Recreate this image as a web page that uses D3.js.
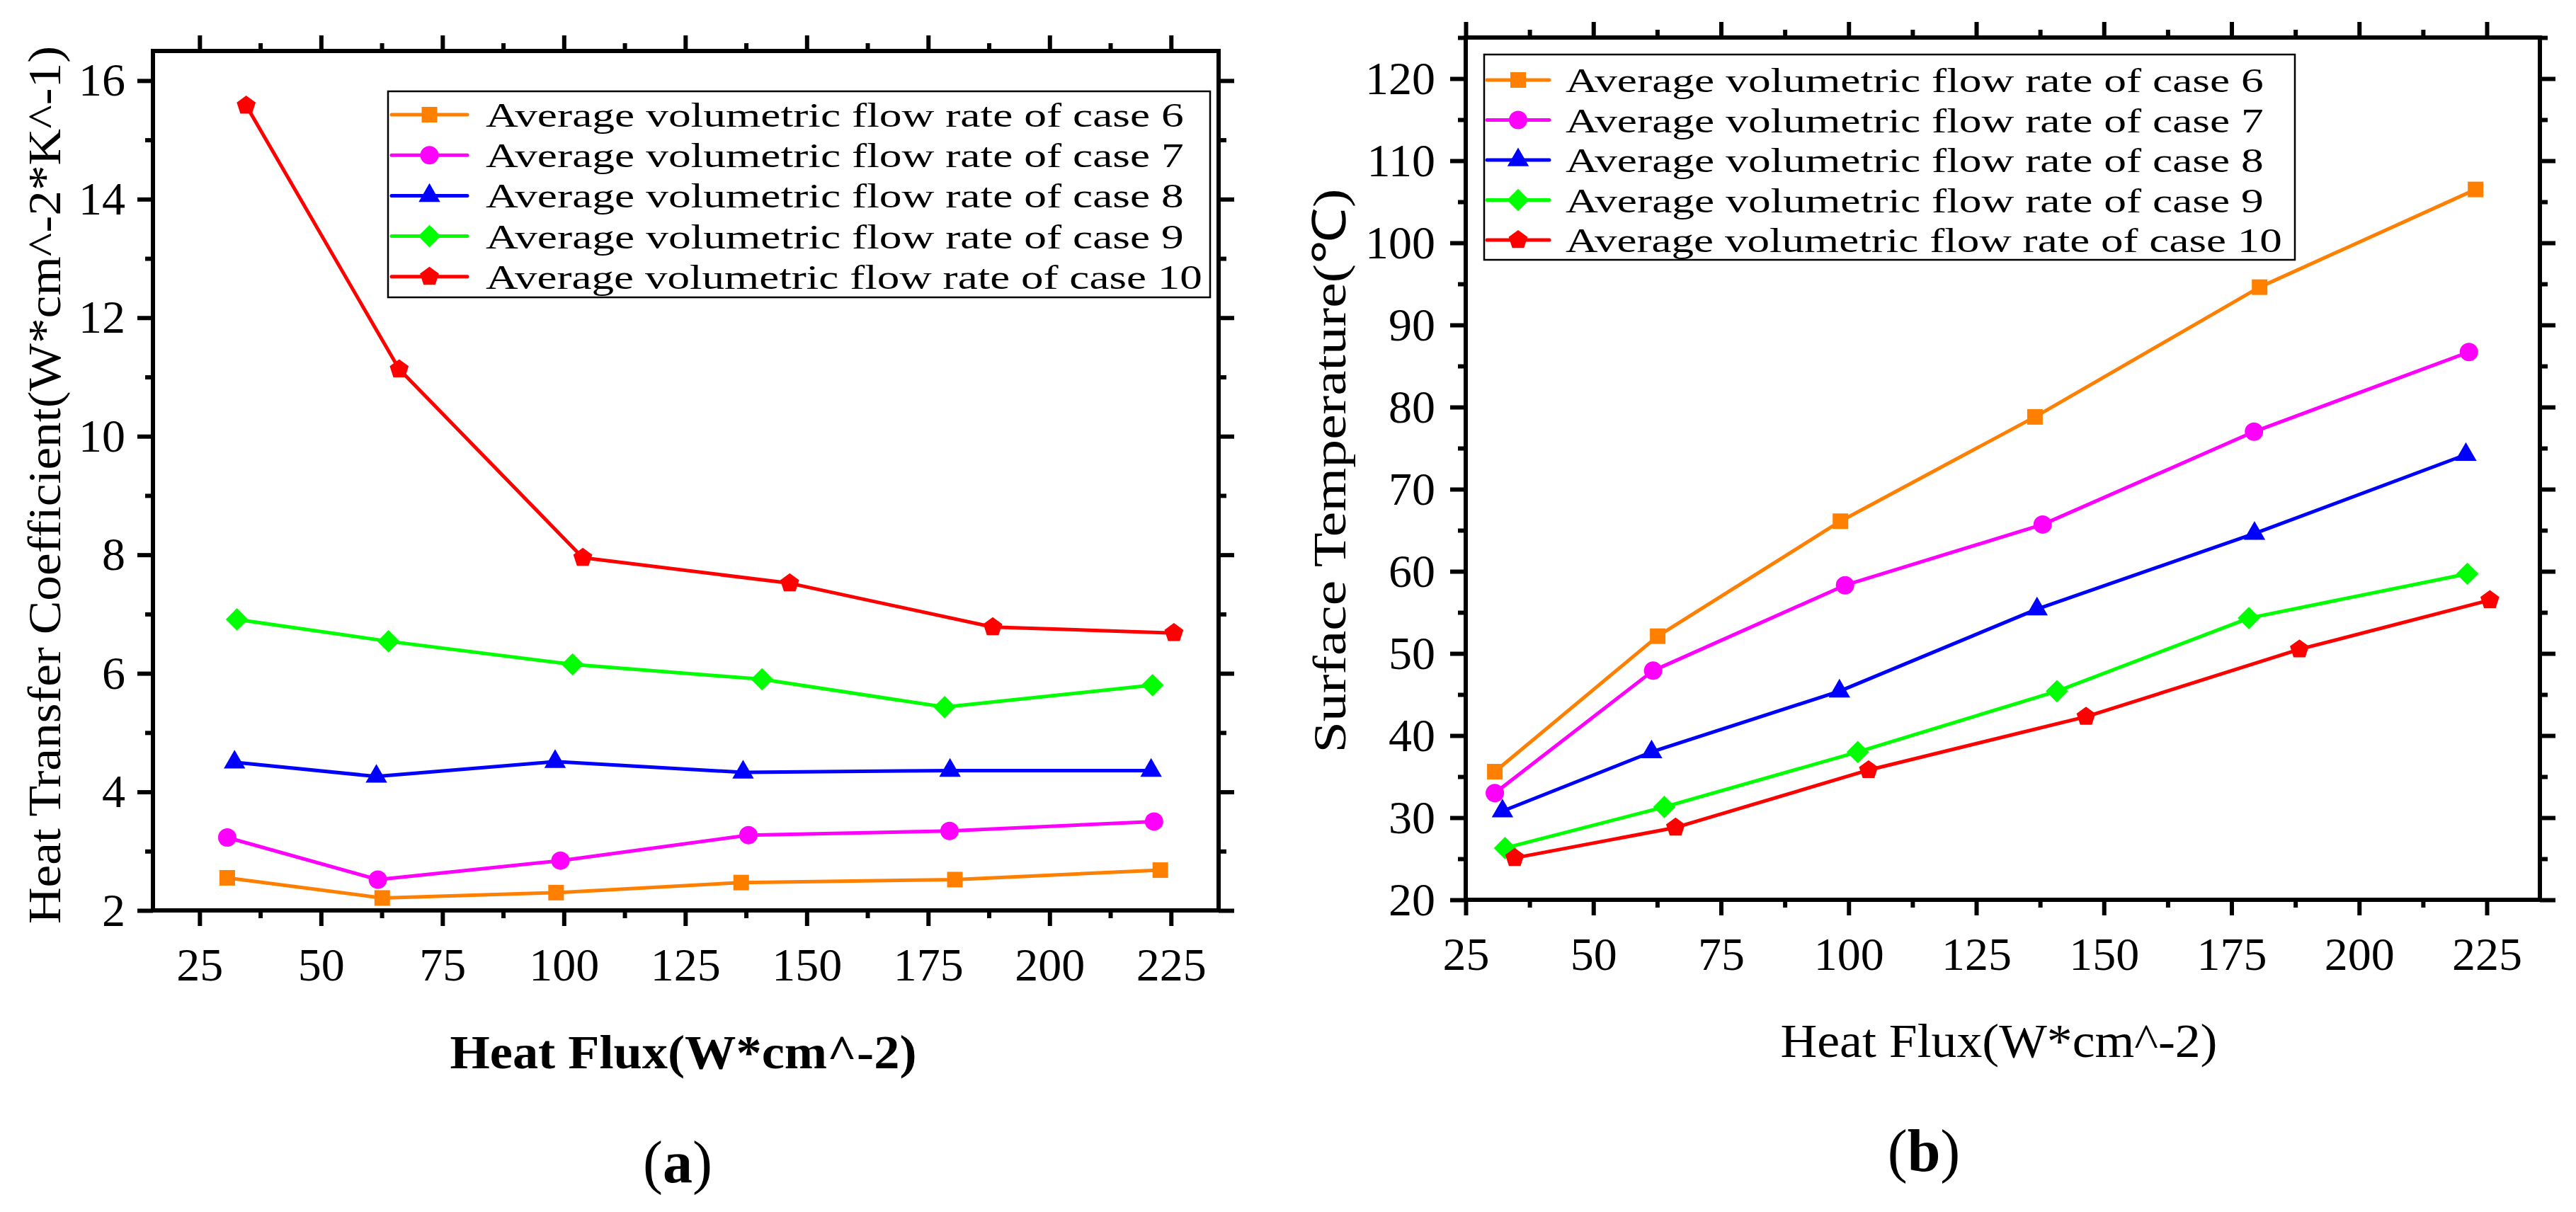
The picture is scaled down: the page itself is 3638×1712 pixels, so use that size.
<!DOCTYPE html>
<html>
<head>
<meta charset="utf-8">
<script src="https://cdn.jsdelivr.net/npm/d3@7"></script>
<style>
  body { margin: 0; background: #fff; }
  svg { display: block; }
</style>
</head>
<body>
<div id="container"></div>
<script>
// legend labels, one per case
let caseNames = [
  'Average volumetric flow rate of case 6',
  'Average volumetric flow rate of case 7',
  'Average volumetric flow rate of case 8',
  'Average volumetric flow rate of case 9',
  'Average volumetric flow rate of case 10'
]

// heat flux (W*cm^-2) for every case
let fluxCase6 = [30.7, 62.6, 98.4, 136.5, 180.5, 222.8]
let fluxCase7 = [30.7, 61.7, 99.3, 138.0, 179.4, 221.5]
let fluxCase8 = [32.2, 61.4, 98.2, 136.9, 179.5, 220.9]
let fluxCase9 = [32.7, 63.9, 101.8, 140.8, 178.4, 221.2]
let fluxCase10 = [34.6, 66.1, 103.9, 146.5, 188.3, 225.6]

// (a) heat transfer coefficient
let htcCase6 = [2.55, 2.21, 2.30, 2.47, 2.52, 2.68]
let htcCase7 = [3.23, 2.52, 2.84, 3.27, 3.34, 3.50]
let htcCase8 = [4.50, 4.26, 4.51, 4.33, 4.36, 4.36]
let htcCase9 = [6.91, 6.54, 6.15, 5.90, 5.43, 5.80]
let htcCase10 = [15.58, 11.13, 7.95, 7.52, 6.78, 6.68]

// (b) surface temperature
let tempCase6 = [35.6, 52.1, 66.1, 78.8, 94.6, 106.5]
let tempCase7 = [33.0, 47.9, 58.3, 65.7, 77.0, 86.7]
let tempCase8 = [30.8, 38.0, 45.4, 55.4, 64.6, 74.2]
let tempCase9 = [26.3, 31.3, 38.0, 45.4, 54.3, 59.7]
let tempCase10 = [25.1, 28.8, 35.8, 42.3, 50.5, 56.5]

// tick labels
let fluxTicks = [25, 50, 75, 100, 125, 150, 175, 200, 225]
let htcTicks = [2, 4, 6, 8, 10, 12, 14, 16]
let tempTicks = [20, 30, 40, 50, 60, 70, 80, 90, 100, 110, 120]

let fluxAll = [fluxCase6, fluxCase7, fluxCase8, fluxCase9, fluxCase10]
let htcAll = [htcCase6, htcCase7, htcCase8, htcCase9, htcCase10]
let tempAll = [tempCase6, tempCase7, tempCase8, tempCase9, tempCase10]

let colors = ['#ff8000', '#ff00ff', '#0000ff', '#00ff00', '#ff0000']

let width = 3638,
  height = 1712

let serif = 'Liberation Serif, Times New Roman, serif'

// pentagon symbol (d3 has none)
let symbolPentagon = {
  draw: function (ctx, size) {
    let r = Math.sqrt(size / 2.378)
    for (let i = 0; i < 5; i++) {
      let a = -Math.PI / 2 + i * 2 * Math.PI / 5
      if (i === 0) ctx.moveTo(r * Math.cos(a), r * Math.sin(a))
      else ctx.lineTo(r * Math.cos(a), r * Math.sin(a))
    }
    ctx.closePath()
  }
}

let markers = [
  { type: d3.symbolSquare, size: 484, rot: 0 },
  { type: d3.symbolCircle, size: 531, rot: 0 },
  { type: d3.symbolTriangle, size: 400, rot: 0 },
  { type: d3.symbolSquare, size: 500, rot: 45 },
  { type: symbolPentagon, size: 470, rot: 0 }
]

let svg = d3.select('#container')
  .append('svg')
  .attr('width', width)
  .attr('height', height)

svg.append('rect').attr('width', width).attr('height', height).attr('fill', '#fff')

function minorTicks(major, domain) {
  let step = (major[1] - major[0]) / 2
  let out = []
  for (let v = major[0] - step; v <= domain[1] + 1e-9; v += step * 2) {
    if (v >= domain[0] - 1e-9) out.push(v)
  }
  return out
}

function drawPanel(p) {
  let g = svg.append('g')

  let scale_x = d3.scaleLinear().domain(p.xDomain).range([p.left, p.right])
  let scale_y = d3.scaleLinear().domain(p.yDomain).range([p.bottom, p.top])

  let xMinor = minorTicks(fluxTicks, p.xDomain)
  let yMinor = minorTicks(p.yTicks, p.yDomain)

  function styleAxis(sel, label) {
    sel.select('.domain').remove()
    sel.selectAll('.tick line').attr('stroke', '#000').attr('stroke-width', 6)
    sel.selectAll('text')
      .attr('font-family', serif)
      .attr('font-size', 66)
      .attr('fill', '#000')
    if (!label) sel.selectAll('text').remove()
  }

  // bottom
  g.append('g').attr('transform', 'translate(0,' + p.bottom + ')')
    .call(d3.axisBottom(scale_x).tickValues(xMinor).tickSize(11).tickFormat(''))
    .call(styleAxis, false)
  g.append('g').attr('transform', 'translate(0,' + p.bottom + ')')
    .call(d3.axisBottom(scale_x).tickValues(fluxTicks).tickSize(22).tickPadding(30).tickFormat(d3.format('d')))
    .call(styleAxis, true)
  // top
  g.append('g').attr('transform', 'translate(0,' + p.top + ')')
    .call(d3.axisTop(scale_x).tickValues(xMinor).tickSize(11))
    .call(styleAxis, false)
  g.append('g').attr('transform', 'translate(0,' + p.top + ')')
    .call(d3.axisTop(scale_x).tickValues(fluxTicks).tickSize(22))
    .call(styleAxis, false)
  // left
  g.append('g').attr('transform', 'translate(' + p.left + ',0)')
    .call(d3.axisLeft(scale_y).tickValues(yMinor).tickSize(11).tickFormat(''))
    .call(styleAxis, false)
  g.append('g').attr('transform', 'translate(' + p.left + ',0)')
    .call(d3.axisLeft(scale_y).tickValues(p.yTicks).tickSize(22).tickPadding(p.yPad).tickFormat(d3.format('d')))
    .call(styleAxis, true)
  // right
  g.append('g').attr('transform', 'translate(' + p.right + ',0)')
    .call(d3.axisRight(scale_y).tickValues(yMinor).tickSize(11))
    .call(styleAxis, false)
  g.append('g').attr('transform', 'translate(' + p.right + ',0)')
    .call(d3.axisRight(scale_y).tickValues(p.yTicks).tickSize(22))
    .call(styleAxis, false)

  // series
  let line_generator = d3.line()
    .x(function (d) { return scale_x(d[0]) })
    .y(function (d) { return scale_y(d[1]) })

  p.values.forEach(function (ys, i) {
    let pts = fluxAll[i].map(function (x, j) { return [x, ys[j]] })
    g.append('path')
      .attr('d', line_generator(pts))
      .attr('fill', 'none')
      .attr('stroke', colors[i])
      .attr('stroke-width', 5)
      .attr('stroke-linejoin', 'round')
      .attr('stroke-linecap', 'round')
    g.selectAll(null)
      .data(pts).enter().append('path')
      .attr('d', d3.symbol().type(markers[i].type).size(markers[i].size))
      .attr('transform', function (d) {
        return 'translate(' + scale_x(d[0]) + ',' + scale_y(d[1]) + ') rotate(' + markers[i].rot + ')'
      })
      .attr('fill', colors[i])
  })

  // frame
  g.append('rect')
    .attr('x', p.left).attr('y', p.top)
    .attr('width', p.right - p.left).attr('height', p.bottom - p.top)
    .attr('fill', 'none').attr('stroke', '#000').attr('stroke-width', 6)

  // legend
  let lg = p.legend
  g.append('rect')
    .attr('x', lg.x).attr('y', lg.y).attr('width', lg.w).attr('height', lg.h)
    .attr('fill', '#fff').attr('stroke', '#000').attr('stroke-width', 2.5)
  caseNames.forEach(function (name, i) {
    let cy = lg.firstRow + i * lg.rowStep
    g.append('line')
      .attr('x1', lg.lineX0).attr('x2', lg.lineX1)
      .attr('y1', cy).attr('y2', cy)
      .attr('stroke', colors[i]).attr('stroke-width', 5).attr('stroke-linecap', 'round')
    g.append('path')
      .attr('d', d3.symbol().type(markers[i].type).size(markers[i].size))
      .attr('transform', 'translate(' + ((lg.lineX0 + lg.lineX1) / 2) + ',' + cy + ') rotate(' + markers[i].rot + ')')
      .attr('fill', colors[i])
    g.append('text')
      .attr('x', lg.textX).attr('y', cy + 17)
      .attr('font-family', serif)
      .attr('font-size', 49)
      .attr('textLength', name.length * 26.1 - 6)
      .attr('lengthAdjust', 'spacingAndGlyphs')
      .attr('fill', '#000')
      .text(name)
  })

  // axis titles
  let xt = p.xTitle
  g.append('text')
    .attr('x', xt.cx).attr('y', xt.baseline)
    .attr('text-anchor', 'middle')
    .attr('font-family', serif)
    .attr('font-size', 68)
    .attr('font-weight', xt.bold ? 'bold' : 'normal')
    .attr('textLength', xt.len)
    .attr('lengthAdjust', 'spacingAndGlyphs')
    .text(xt.text)
  let yt = p.yTitle
  g.append('text')
    .attr('transform', 'translate(' + yt.baseline + ',' + yt.cy + ') rotate(-90)')
    .attr('text-anchor', 'middle')
    .attr('font-family', serif)
    .attr('font-size', 66)
    .attr('font-weight', yt.bold ? 'bold' : 'normal')
    .attr('textLength', yt.len)
    .attr('lengthAdjust', 'spacingAndGlyphs')
    .text(yt.text)

  // panel tag
  let tag = g.append('text')
    .attr('x', p.tag.cx).attr('y', p.tag.baseline)
    .attr('text-anchor', 'middle')
    .attr('font-family', serif)
    .attr('font-size', 84)
  tag.append('tspan').text('(')
  tag.append('tspan').attr('font-weight', 'bold').text(p.tag.letter)
  tag.append('tspan').text(')')
}

drawPanel({
  left: 216, right: 1721, top: 72, bottom: 1286,
  xDomain: [15.4, 234.8], yDomain: [2, 16.5],
  yTicks: htcTicks, yPad: 17,
  values: htcAll,
  legend: { x: 548, y: 129, w: 1161, h: 291, firstRow: 162, rowStep: 57.2, lineX0: 553, lineX1: 660, textX: 686 },
  xTitle: { text: 'Heat Flux(W*cm^-2)', cx: 965, baseline: 1509, len: 659, bold: true },
  yTitle: { text: 'Heat Transfer Coefficient(W*cm^-2*K^-1)', cy: 685, baseline: 85, len: 1240, bold: false },
  tag: { letter: 'a', cx: 957, baseline: 1670 }
})

drawPanel({
  left: 2070, right: 3587, top: 53, bottom: 1271,
  xDomain: [25, 235.4], yDomain: [20, 125],
  yTicks: tempTicks, yPad: 21,
  values: tempAll,
  legend: { x: 2096, y: 77, w: 1145, h: 290, firstRow: 113, rowStep: 56.5, lineX0: 2100, lineX1: 2188, textX: 2211 },
  xTitle: { text: 'Heat Flux(W*cm^-2)', cx: 2823, baseline: 1493, len: 617, bold: false },
  yTitle: { text: 'Surface Temperature(℃)', cy: 665, baseline: 1900, len: 797, bold: false },
  tag: { letter: 'b', cx: 2717, baseline: 1654 }
})
</script>
</body>
</html>
